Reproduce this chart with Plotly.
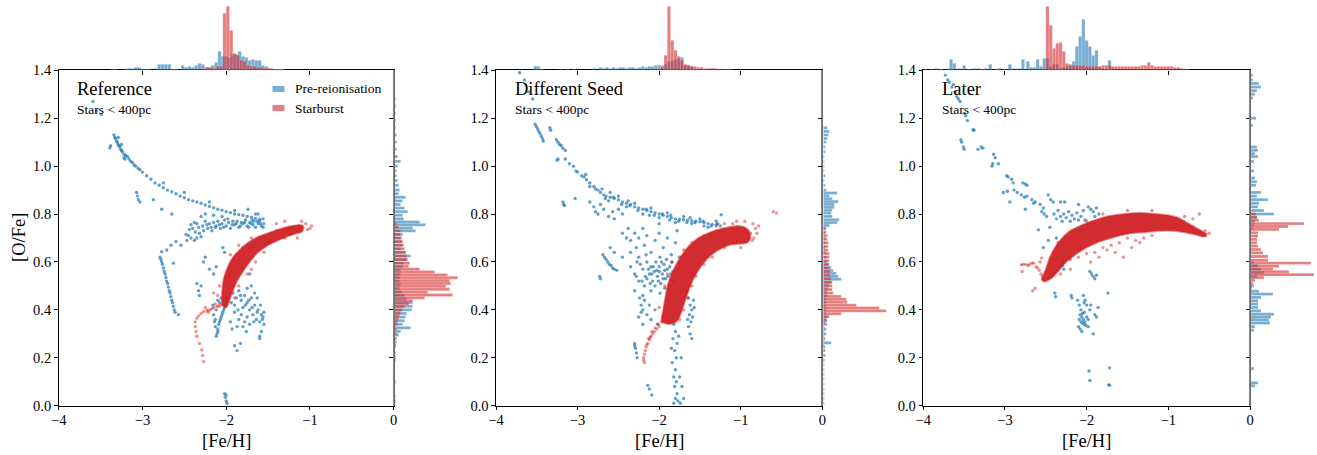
import plotly.graph_objects as go

# ---------------------------------------------------------------- text / ticks
PANEL_TITLES = ["Reference", "Different Seed", "Later"]
SUBTITLE = "Stars < 400pc"
SERIES_NAMES = ["Pre-reionisation", "Starburst"]
X_TITLE = "[Fe/H]"
Y_TITLE = "[O/Fe]"
FE_TICKS = [-4, -3, -2, -1, 0]
FE_TICK_TEXT = ["\u22124", "\u22123", "\u22122", "\u22121", "0"]
OFE_TICKS = [0.0, 0.2, 0.4, 0.6, 0.8, 1.0, 1.2, 1.4]
OFE_TICK_TEXT = ["0.0", "0.2", "0.4", "0.6", "0.8", "1.0", "1.2", "1.4"]

# ---------------------------------------------------------------- panel 1: Reference  ([Fe/H], [O/Fe])
REF_PRE = [
    (-3.59, 1.27), (-3.55, 1.23), (-3.49, 1.215), (-3.34, 1.13), (-3.33, 1.12), (-3.32, 1.115), (-3.31, 1.105),
    (-3.30, 1.10), (-3.29, 1.09), (-3.28, 1.085), (-3.27, 1.08), (-3.26, 1.07), (-3.25, 1.065), (-3.24, 1.06),
    (-3.22, 1.05), (-3.20, 1.045), (-3.18, 1.04), (-3.16, 1.03), (-3.14, 1.02), (-3.12, 1.015), (-3.10, 1.005),
    (-3.08, 1.0), (-3.05, 0.99), (-3.03, 0.985), (-3.39, 1.076), (-3.38, 1.085), (-3.22, 1.035), (-3.21, 1.03),
    (-3.25, 1.09), (-3.29, 1.12),
    (-3.0, 0.975), (-2.95, 0.96), (-2.90, 0.945), (-2.85, 0.93), (-2.80, 0.92), (-2.75, 0.91), (-2.70, 0.90),
    (-2.65, 0.893), (-2.60, 0.885), (-2.55, 0.875), (-2.50, 0.868), (-2.45, 0.86), (-2.40, 0.855), (-2.35, 0.85),
    (-2.30, 0.845), (-2.25, 0.838), (-2.20, 0.832), (-2.15, 0.826), (-2.10, 0.82), (-2.05, 0.816), (-2.0, 0.81),
    (-1.95, 0.806), (-1.90, 0.80), (-1.85, 0.797), (-1.80, 0.795), (-1.75, 0.79), (-1.70, 0.787), (-1.65, 0.782),
    (-1.60, 0.778), (-1.56, 0.78), (-2.75, 0.93), (-2.50, 0.89), (-2.20, 0.85), (-1.90, 0.815), (-1.65, 0.80),
    (-1.74, 0.82), (-1.62, 0.80),
    (-3.07, 0.89), (-3.06, 0.875), (-3.05, 0.86), (-3.03, 0.85), (-2.87, 0.86), (-2.77, 0.82), (-2.65, 0.80),
    (-2.40, 0.74), (-2.35, 0.76), (-2.32, 0.72), (-2.28, 0.75), (-2.25, 0.77), (-2.22, 0.74), (-2.20, 0.76),
    (-2.17, 0.73), (-2.15, 0.765), (-2.12, 0.75), (-2.10, 0.77), (-2.07, 0.74), (-2.05, 0.76), (-2.02, 0.775),
    (-2.0, 0.75), (-1.97, 0.765), (-1.95, 0.74), (-1.92, 0.77), (-1.90, 0.755), (-1.87, 0.77), (-1.85, 0.745),
    (-1.82, 0.765), (-1.80, 0.76), (-1.77, 0.775), (-1.75, 0.75), (-1.72, 0.765), (-1.70, 0.76), (-1.67, 0.77),
    (-1.65, 0.745), (-1.62, 0.76), (-1.60, 0.77), (-1.58, 0.75), (-1.56, 0.745), (-1.55, 0.76), (-2.30, 0.79),
    (-2.25, 0.80), (-2.15, 0.795), (-2.05, 0.79), (-2.38, 0.765), (-2.13, 0.745), (-1.93, 0.755), (-1.68, 0.755),
    (-2.42, 0.755), (-2.33, 0.745), (-2.27, 0.73), (-2.23, 0.755), (-2.18, 0.745), (-2.08, 0.755), (-2.03, 0.745),
    (-1.98, 0.78), (-1.88, 0.76), (-1.83, 0.75), (-1.78, 0.765), (-1.73, 0.745), (-1.69, 0.775), (-1.63, 0.77),
    (-1.59, 0.76), (-2.37, 0.725), (-2.44, 0.735), (-2.48, 0.715),
    (-2.45, 0.71), (-2.42, 0.70), (-2.38, 0.69), (-2.35, 0.70), (-2.30, 0.705), (-2.47, 0.69),
    (-2.77, 0.643), (-2.71, 0.65), (-2.66, 0.67), (-2.60, 0.685), (-2.63, 0.595), (-2.54, 0.67),
    (-2.79, 0.62), (-2.78, 0.61), (-2.77, 0.60), (-2.76, 0.59), (-2.75, 0.575), (-2.74, 0.56), (-2.73, 0.55),
    (-2.72, 0.535), (-2.71, 0.52), (-2.70, 0.51), (-2.69, 0.495), (-2.68, 0.48), (-2.67, 0.47), (-2.66, 0.455),
    (-2.65, 0.44), (-2.64, 0.43), (-2.63, 0.415), (-2.62, 0.40), (-2.61, 0.39), (-2.57, 0.38),
    (-1.99, 0.45), (-2.0, 0.43), (-2.01, 0.42), (-2.02, 0.41), (-2.03, 0.40), (-2.04, 0.39), (-2.05, 0.38),
    (-2.06, 0.37), (-2.07, 0.36), (-2.08, 0.35), (-2.09, 0.34), (-2.10, 0.32), (-2.11, 0.30), (-2.12, 0.29),
    (-2.10, 0.31), (-2.13, 0.33), (-2.13, 0.36), (-2.15, 0.38), (-2.12, 0.40), (-2.16, 0.42), (-2.10, 0.44),
    (-1.92, 0.47), (-1.88, 0.45), (-1.85, 0.48), (-1.82, 0.44), (-1.80, 0.41), (-1.78, 0.46), (-1.75, 0.43),
    (-1.72, 0.40), (-1.70, 0.45), (-1.68, 0.38), (-1.66, 0.42), (-1.64, 0.36), (-1.62, 0.40), (-1.60, 0.35),
    (-1.58, 0.38), (-1.56, 0.37), (-1.55, 0.34), (-1.58, 0.31), (-1.60, 0.29), (-1.85, 0.36), (-1.82, 0.38),
    (-1.78, 0.35), (-1.90, 0.39), (-1.95, 0.35), (-1.93, 0.32), (-1.87, 0.33), (-1.75, 0.37), (-1.72, 0.34),
    (-1.70, 0.50), (-1.66, 0.47), (-1.75, 0.49), (-1.63, 0.45), (-1.55, 0.39), (-1.90, 0.25), (-1.87, 0.23),
    (-1.83, 0.26), (-1.60, 0.28), (-2.35, 0.51), (-2.33, 0.48), (-2.30, 0.50), (-2.32, 0.46),
    (-1.94, 0.43), (-1.90, 0.42), (-1.86, 0.40), (-1.83, 0.46), (-1.77, 0.42), (-1.73, 0.44), (-1.69, 0.41),
    (-1.67, 0.35), (-1.63, 0.39), (-1.59, 0.42), (-1.57, 0.36), (-1.80, 0.33), (-1.76, 0.31), (-2.08, 0.43),
    (-2.06, 0.45), (-2.14, 0.35),
    (-2.27, 0.60), (-2.20, 0.57), (-2.15, 0.55), (-2.12, 0.58), (-2.04, 0.66), (-2.02, 0.64), (-1.80, 0.66),
    (-1.72, 0.66), (-1.49, 0.68), (-1.72, 0.55), (-2.25, 0.62),
    (-2.02, 0.05), (-2.01, 0.035), (-2.0, 0.02), (-1.99, 0.01), (-2.0, 0.045),
]
REF_BURST_CORE = [
    (-2.05, 0.42), (-2.05, 0.47), (-2.03, 0.53), (-1.98, 0.58), (-1.92, 0.62), (-1.84, 0.65), (-1.74, 0.68),
    (-1.62, 0.705), (-1.50, 0.72), (-1.38, 0.735), (-1.25, 0.748), (-1.12, 0.755), (-1.08, 0.75), (-1.08, 0.735),
    (-1.10, 0.725), (-1.20, 0.715), (-1.35, 0.695), (-1.50, 0.67), (-1.62, 0.64), (-1.72, 0.60), (-1.80, 0.56),
    (-1.87, 0.52), (-1.93, 0.47), (-1.97, 0.43), (-2.0, 0.41),
]
REF_BURST = [
    (-2.03, 0.43), (-2.07, 0.42), (-2.11, 0.414), (-2.15, 0.41), (-2.19, 0.40), (-2.23, 0.395), (-2.27, 0.393),
    (-2.30, 0.385), (-2.33, 0.375), (-2.35, 0.365), (-2.37, 0.35), (-2.37, 0.33), (-2.36, 0.31), (-2.35, 0.29),
    (-2.32, 0.26), (-2.29, 0.233), (-2.28, 0.21), (-2.27, 0.184), (-2.22, 0.40), (-2.25, 0.41), (-2.13, 0.425),
    (-2.09, 0.415), (-2.17, 0.405), (-2.21, 0.39),
    (-1.05, 0.76), (-1.0, 0.74), (-0.98, 0.75), (-1.10, 0.77), (-1.15, 0.70), (-1.30, 0.70), (-1.45, 0.69),
    (-1.55, 0.64), (-1.60, 0.66), (-1.65, 0.60), (-1.70, 0.57), (-1.75, 0.55), (-1.85, 0.50), (-1.90, 0.45),
    (-2.08, 0.50), (-2.10, 0.46), (-1.95, 0.63), (-1.85, 0.67), (-1.70, 0.70), (-1.40, 0.76), (-1.30, 0.77),
    (-2.15, 0.47), (-1.57, 0.69), (-1.40, 0.73), (-1.25, 0.74), (-1.90, 0.58), (-1.80, 0.62), (-1.03, 0.735),
]
REF_TOP_PRE = [
    (-3.36, 1), (-3.32, 1), (-3.20, 1.5), (-3.16, 2), (-3.12, 2), (-3.08, 3), (-3.04, 3), (-3.00, 1), (-2.96, 1),
    (-2.92, 1), (-2.84, 2), (-2.80, 6), (-2.76, 6), (-2.72, 6), (-2.68, 6), (-2.64, 1), (-2.60, 1.5), (-2.52, 5),
    (-2.48, 3), (-2.44, 4), (-2.40, 3), (-2.36, 5), (-2.32, 7), (-2.28, 6), (-2.24, 3), (-2.20, 3), (-2.16, 5),
    (-2.12, 8), (-2.08, 19), (-2.04, 14), (-2.00, 14), (-1.96, 13), (-1.92, 16), (-1.88, 16), (-1.84, 19),
    (-1.80, 14), (-1.76, 13), (-1.72, 10), (-1.68, 11), (-1.64, 10), (-1.60, 10), (-1.56, 5), (-1.52, 4),
    (-1.48, 2), (-1.44, 1), (-1.40, 1), (-1.36, 1), (-1.32, 1),
]
REF_TOP_BURST = [
    (-2.26, 2), (-2.22, 3), (-2.18, 3), (-2.14, 2), (-2.10, 4), (-2.06, 4), (-2.02, 57), (-1.98, 64), (-1.94, 40),
    (-1.90, 17), (-1.86, 15), (-1.82, 10), (-1.78, 9), (-1.74, 5), (-1.70, 4), (-1.66, 4), (-1.62, 3), (-1.58, 3),
    (-1.54, 2), (-1.50, 2), (-1.46, 2), (-1.42, 1), (-1.38, 1), (-1.34, 1),
]
REF_SIDE_PRE = [
    (1.28, 1), (1.25, 1), (1.22, 1), (1.19, 1), (1.16, 1), (1.13, 2), (1.10, 2), (1.07, 2), (1.04, 3), (1.02, 6),
    (1.00, 3), (0.98, 2), (0.96, 2), (0.94, 3), (0.92, 4), (0.90, 5), (0.885, 4), (0.87, 11), (0.855, 8),
    (0.84, 6), (0.825, 10), (0.81, 13), (0.795, 8), (0.78, 9), (0.767, 25), (0.755, 31), (0.742, 18), (0.73, 21),
    (0.715, 8), (0.70, 6), (0.685, 7), (0.67, 8), (0.655, 6), (0.64, 11), (0.625, 16), (0.61, 12), (0.595, 9),
    (0.58, 8), (0.565, 6), (0.55, 6), (0.535, 5), (0.52, 5), (0.505, 6), (0.49, 5), (0.475, 7), (0.46, 10),
    (0.445, 12), (0.43, 18), (0.415, 18), (0.40, 17), (0.385, 12), (0.37, 11), (0.355, 10), (0.34, 8),
    (0.325, 16), (0.31, 6), (0.295, 4), (0.28, 2), (0.265, 2), (0.25, 1), (0.20, 1), (0.10, 1), (0.04, 1),
    (0.02, 1),
]
REF_SIDE_BURST = [
    (0.76, 2), (0.745, 4), (0.73, 6), (0.715, 6), (0.70, 7), (0.685, 8), (0.67, 9), (0.655, 10), (0.64, 11),
    (0.625, 12), (0.61, 13), (0.595, 15), (0.582, 14), (0.57, 25), (0.558, 40), (0.546, 53), (0.534, 63),
    (0.522, 55), (0.51, 56), (0.498, 51), (0.486, 55), (0.474, 33), (0.462, 58), (0.45, 30), (0.438, 18),
    (0.426, 14), (0.414, 10), (0.40, 8), (0.388, 6), (0.376, 5), (0.364, 4), (0.352, 3), (0.34, 3), (0.32, 2),
    (0.30, 2), (0.28, 1), (0.25, 1), (0.22, 1), (0.19, 1),
]

# ---------------------------------------------------------------- panel 2: Different Seed
SEED_PRE = [
    (-3.71, 1.39), (-3.65, 1.36), (-3.60, 1.31), (-3.55, 1.28),
    (-3.52, 1.175), (-3.505, 1.165), (-3.49, 1.155), (-3.475, 1.145), (-3.46, 1.135), (-3.445, 1.125),
    (-3.43, 1.115), (-3.42, 1.105), (-3.34, 1.16), (-3.33, 1.15), (-3.26, 1.11), (-3.24, 1.10), (-3.22, 1.09),
    (-3.20, 1.085), (-3.18, 1.075), (-3.15, 1.065), (-3.24, 1.03), (-3.25, 1.025),
    (-3.15, 1.03), (-3.10, 1.01), (-3.05, 1.0), (-3.02, 0.98), (-3.0, 0.975), (-2.95, 0.96), (-2.92, 0.955),
    (-2.89, 0.943), (-2.85, 0.93), (-2.80, 0.915), (-2.75, 0.90), (-2.72, 0.89), (-2.68, 0.88), (-2.65, 0.875),
    (-2.60, 0.87), (-2.55, 0.865), (-2.50, 0.86), (-2.45, 0.85), (-2.40, 0.845), (-2.35, 0.84), (-2.30, 0.83),
    (-2.25, 0.825), (-2.20, 0.82), (-2.15, 0.815), (-2.10, 0.81), (-2.05, 0.805), (-2.0, 0.80), (-1.95, 0.795),
    (-1.90, 0.79), (-1.85, 0.785), (-1.80, 0.78), (-1.75, 0.778), (-1.70, 0.776), (-1.65, 0.774), (-1.60, 0.772),
    (-1.55, 0.77), (-1.50, 0.768), (-1.45, 0.765), (-1.40, 0.76), (-1.35, 0.757), (-1.30, 0.755), (-1.25, 0.75),
    (-2.90, 0.965), (-2.70, 0.905), (-2.60, 0.89), (-2.50, 0.875), (-2.40, 0.83), (-2.30, 0.845), (-2.20, 0.80),
    (-2.10, 0.825), (-2.0, 0.785), (-1.90, 0.805), (-1.80, 0.765), (-1.70, 0.79), (-1.60, 0.76), (-1.50, 0.78),
    (-1.40, 0.745), (-1.30, 0.77), (-1.24, 0.797), (-2.62, 0.855), (-2.38, 0.855), (-2.12, 0.795),
    (-1.87, 0.775), (-1.62, 0.785), (-1.45, 0.75),
    (-2.85, 0.915), (-2.78, 0.905), (-2.66, 0.865), (-2.56, 0.87), (-2.46, 0.84), (-2.36, 0.835), (-2.26, 0.815),
    (-2.16, 0.82), (-2.06, 0.795), (-1.96, 0.80), (-1.86, 0.795), (-1.76, 0.77), (-1.66, 0.765), (-1.56, 0.765),
    (-1.46, 0.77), (-1.36, 0.75), (-1.28, 0.76),
    (-3.18, 0.85), (-3.17, 0.84), (-3.16, 0.835), (-3.03, 0.865),
    (-2.85, 0.85), (-2.80, 0.83), (-2.78, 0.81), (-2.75, 0.80), (-2.72, 0.84), (-2.68, 0.82), (-2.62, 0.79),
    (-2.57, 0.81), (-2.55, 0.78), (-2.50, 0.82), (-2.45, 0.80),
    (-2.45, 0.72), (-2.40, 0.70), (-2.38, 0.74), (-2.35, 0.69), (-2.30, 0.72), (-2.28, 0.66), (-2.25, 0.70),
    (-2.20, 0.74), (-2.18, 0.67), (-2.15, 0.71), (-2.10, 0.64), (-2.05, 0.69), (-2.0, 0.72), (-1.95, 0.66),
    (-1.90, 0.70), (-1.85, 0.63), (-1.80, 0.68), (-1.75, 0.62), (-2.60, 0.66), (-2.55, 0.64), (-2.45, 0.62),
    (-2.35, 0.64), (-2.25, 0.62), (-2.0, 0.76), (-1.78, 0.73),
    (-2.35, 0.58), (-2.30, 0.55), (-2.27, 0.60), (-2.25, 0.52), (-2.20, 0.57), (-2.18, 0.50), (-2.15, 0.60),
    (-2.12, 0.55), (-2.10, 0.58), (-2.08, 0.52), (-2.06, 0.56), (-2.04, 0.60), (-2.02, 0.54), (-2.0, 0.58),
    (-1.98, 0.51), (-1.96, 0.55), (-1.94, 0.59), (-1.92, 0.53), (-1.90, 0.57), (-1.88, 0.50), (-1.86, 0.55),
    (-1.84, 0.60), (-1.82, 0.52), (-2.05, 0.50), (-2.10, 0.48), (-2.20, 0.46), (-2.30, 0.48), (-2.15, 0.53),
    (-2.0, 0.56), (-1.95, 0.53), (-2.07, 0.58), (-1.97, 0.60), (-2.13, 0.57), (-2.03, 0.565), (-1.93, 0.565),
    (-2.28, 0.54), (-2.23, 0.59), (-2.17, 0.54), (-2.11, 0.51), (-2.09, 0.55), (-2.01, 0.52), (-1.99, 0.62),
    (-1.91, 0.61), (-1.87, 0.58), (-1.89, 0.54), (-1.83, 0.56), (-2.21, 0.52), (-2.16, 0.63), (-1.93, 0.49),
    (-1.99, 0.47),
    (-2.69, 0.63), (-2.67, 0.62), (-2.65, 0.61), (-2.63, 0.60), (-2.61, 0.59), (-2.59, 0.585), (-2.57, 0.575),
    (-2.55, 0.57), (-2.52, 0.565), (-2.73, 0.54), (-2.72, 0.53),
    (-2.24, 0.45), (-2.22, 0.42), (-2.20, 0.40), (-2.18, 0.44), (-2.15, 0.38), (-2.12, 0.42), (-2.10, 0.36),
    (-2.05, 0.40), (-2.02, 0.34), (-2.20, 0.34), (-2.25, 0.37), (-2.22, 0.39),
    (-1.66, 0.48), (-1.64, 0.45), (-1.62, 0.42), (-1.60, 0.40), (-1.63, 0.38), (-1.61, 0.35), (-1.64, 0.33),
    (-1.62, 0.30), (-1.60, 0.28), (-1.65, 0.36), (-1.58, 0.44), (-1.59, 0.37), (-1.57, 0.41),
    (-1.82, 0.34), (-1.80, 0.31), (-1.83, 0.28), (-1.78, 0.26), (-1.81, 0.23), (-1.79, 0.20), (-1.84, 0.18),
    (-1.80, 0.15), (-1.82, 0.12), (-1.79, 0.10), (-1.81, 0.08), (-1.78, 0.05), (-1.80, 0.03), (-1.82, 0.01),
    (-1.77, 0.02), (-1.75, 0.12), (-1.73, 0.20), (-1.72, 0.08), (-1.74, 0.01), (-1.70, 0.03), (-1.76, 0.29),
    (-1.85, 0.24),
    (-2.30, 0.26), (-2.29, 0.24), (-2.28, 0.22), (-2.27, 0.20), (-2.30, 0.25), (-2.14, 0.085), (-2.12, 0.07),
    (-2.09, 0.045),
]
SEED_BURST_CORE = [
    (-1.97, 0.35), (-1.95, 0.40), (-1.92, 0.46), (-1.88, 0.52), (-1.82, 0.57), (-1.74, 0.62), (-1.64, 0.665),
    (-1.52, 0.70), (-1.40, 0.72), (-1.28, 0.735), (-1.15, 0.745), (-1.03, 0.75), (-0.95, 0.745), (-0.90, 0.73),
    (-0.88, 0.70), (-0.92, 0.68), (-1.05, 0.675), (-1.15, 0.67), (-1.30, 0.645), (-1.42, 0.61), (-1.50, 0.575),
    (-1.58, 0.53), (-1.64, 0.48), (-1.69, 0.43), (-1.74, 0.38), (-1.79, 0.35), (-1.88, 0.34),
]
SEED_BURST = [
    (-1.97, 0.35), (-2.0, 0.33), (-2.03, 0.32), (-2.06, 0.31), (-2.08, 0.30), (-2.10, 0.29), (-2.12, 0.275),
    (-2.14, 0.26), (-2.16, 0.245), (-2.17, 0.23), (-2.18, 0.215), (-2.19, 0.20), (-2.19, 0.19), (-2.18, 0.18),
    (-2.05, 0.325), (-2.09, 0.31), (-2.13, 0.28), (-2.01, 0.34), (-2.11, 0.285), (-2.15, 0.255),
    (-0.85, 0.76), (-0.82, 0.74), (-0.80, 0.72), (-0.84, 0.70), (-0.78, 0.75), (-0.95, 0.77), (-1.05, 0.77),
    (-1.20, 0.76), (-1.30, 0.75), (-0.56, 0.804), (-0.60, 0.81), (-1.0, 0.66), (-1.20, 0.66), (-1.35, 0.62),
    (-1.45, 0.59), (-1.55, 0.54), (-1.60, 0.50), (-1.65, 0.45), (-1.70, 0.40), (-1.75, 0.36), (-1.45, 0.71),
    (-1.60, 0.68), (-1.70, 0.65), (-1.85, 0.60), (-1.90, 0.55), (-1.93, 0.50), (-2.0, 0.41), (-1.95, 0.37),
    (-0.88, 0.72), (-0.86, 0.69), (-1.10, 0.76),
]
SEED_TOP_PRE = [
    (-3.52, 4), (-3.48, 4), (-3.44, 1), (-3.20, 1), (-3.12, 1), (-3.04, 1), (-2.80, 2), (-2.72, 3), (-2.68, 2),
    (-2.64, 3), (-2.60, 2), (-2.56, 3), (-2.52, 2), (-2.48, 3), (-2.44, 3), (-2.40, 2), (-2.36, 3), (-2.32, 3),
    (-2.28, 2), (-2.24, 3), (-2.20, 4), (-2.16, 3), (-2.12, 4), (-2.08, 4), (-2.04, 5), (-2.00, 5), (-1.96, 5),
    (-1.92, 6), (-1.88, 9), (-1.84, 10), (-1.80, 11), (-1.76, 12), (-1.72, 13), (-1.68, 5), (-1.64, 5),
    (-1.60, 4), (-1.56, 1), (-1.52, 1), (-1.48, 1), (-1.44, 1),
]
SEED_TOP_BURST = [
    (-2.00, 2), (-1.96, 3), (-1.92, 15), (-1.88, 64), (-1.84, 30), (-1.80, 20), (-1.76, 14), (-1.72, 10),
    (-1.68, 6), (-1.64, 5), (-1.60, 4), (-1.56, 4), (-1.52, 3), (-1.48, 3), (-1.44, 2), (-1.40, 2), (-1.36, 2),
    (-1.32, 2), (-1.28, 1.5), (-1.24, 1.5), (-1.20, 1), (-1.16, 1), (-1.12, 1),
]
SEED_SIDE_PRE = [
    (1.16, 4), (1.145, 6), (1.13, 5), (1.115, 4), (1.10, 3), (1.08, 2), (1.06, 2), (1.04, 1), (1.02, 1),
    (1.0, 1), (0.98, 1), (0.96, 2), (0.94, 1), (0.92, 2), (0.90, 3), (0.888, 14), (0.876, 6), (0.864, 9),
    (0.852, 15), (0.84, 11), (0.828, 11), (0.816, 9), (0.804, 8), (0.79, 9), (0.776, 16), (0.764, 14),
    (0.752, 6), (0.74, 3), (0.72, 2), (0.70, 2), (0.68, 2), (0.66, 2), (0.64, 3), (0.62, 3), (0.60, 4),
    (0.588, 5), (0.576, 8), (0.564, 10), (0.552, 13), (0.54, 15), (0.528, 18), (0.516, 8), (0.504, 6),
    (0.49, 5), (0.475, 4), (0.46, 4), (0.445, 3), (0.43, 3), (0.415, 3), (0.40, 3), (0.385, 3), (0.37, 4),
    (0.355, 4), (0.34, 4), (0.32, 3), (0.30, 3), (0.28, 2), (0.262, 8), (0.245, 2), (0.23, 2), (0.21, 2),
    (0.19, 1), (0.17, 1), (0.15, 1), (0.13, 1), (0.11, 1), (0.09, 1), (0.07, 1), (0.05, 1), (0.03, 1),
    (0.01, 1),
]
SEED_SIDE_BURST = [
    (0.74, 2), (0.725, 3), (0.71, 4), (0.695, 4), (0.68, 5), (0.665, 5), (0.65, 5), (0.635, 6), (0.62, 6),
    (0.605, 6), (0.59, 6), (0.575, 6), (0.56, 7), (0.545, 7), (0.53, 8), (0.515, 9), (0.50, 9), (0.485, 9),
    (0.47, 10), (0.456, 18), (0.444, 23), (0.432, 24), (0.42, 33), (0.408, 56), (0.396, 63), (0.384, 18),
    (0.372, 6), (0.36, 3), (0.347, 2), (0.33, 1), (0.31, 1), (0.29, 1), (0.27, 1), (0.25, 1), (0.23, 1),
    (0.21, 1), (0.19, 1),
]

# ---------------------------------------------------------------- panel 3: Later
LATER_PRE = [
    (-3.73, 1.38), (-3.70, 1.36), (-3.68, 1.35), (-3.65, 1.33), (-3.63, 1.34), (-3.61, 1.31), (-3.59, 1.29),
    (-3.57, 1.28), (-3.55, 1.27), (-3.50, 1.22), (-3.48, 1.21), (-3.46, 1.19), (-3.39, 1.152), (-3.38, 1.15),
    (-3.54, 1.11), (-3.53, 1.10), (-3.51, 1.08), (-3.50, 1.07), (-3.33, 1.07), (-3.29, 1.08), (-3.27, 1.075),
    (-3.14, 1.05), (-3.12, 1.035), (-3.16, 1.0), (-3.15, 1.01), (-3.08, 1.01), (-2.98, 0.96), (-2.96, 0.955),
    (-2.92, 0.945), (-2.90, 0.93), (-3.02, 0.89), (-2.97, 0.895), (-2.89, 0.90), (-2.85, 0.89), (-2.94, 0.85),
    (-2.78, 0.93), (-2.75, 0.925), (-2.73, 0.92), (-2.80, 0.88), (-2.76, 0.87), (-2.73, 0.875), (-2.75, 0.82),
    (-2.67, 0.86), (-2.63, 0.85), (-2.65, 0.845), (-2.57, 0.84), (-2.55, 0.81), (-2.52, 0.80), (-2.49, 0.79),
    (-2.53, 0.825), (-2.47, 0.88), (-2.44, 0.86), (-2.41, 0.85), (-2.32, 0.85), (-2.27, 0.85), (-2.10, 0.84),
    (-2.40, 0.80), (-2.37, 0.78), (-2.35, 0.815), (-2.32, 0.79), (-2.30, 0.77), (-2.28, 0.80), (-2.25, 0.785),
    (-2.22, 0.81), (-2.20, 0.77), (-2.18, 0.795), (-2.15, 0.78), (-2.12, 0.805), (-2.10, 0.775), (-2.07, 0.79),
    (-2.04, 0.815), (-2.02, 0.775), (-1.98, 0.83), (-1.95, 0.82), (-1.92, 0.81), (-1.88, 0.825), (-1.90, 0.79),
    (-1.85, 0.80),
    (-2.59, 0.734), (-2.53, 0.66), (-2.37, 0.70), (-2.47, 0.69), (-2.45, 0.745), (-2.29, 0.60), (-2.28, 0.57),
    (-2.30, 0.585),
    (-2.39, 0.47), (-2.38, 0.455), (-2.19, 0.46), (-2.18, 0.45), (-2.04, 0.46), (-2.02, 0.44), (-2.0, 0.42),
    (-2.03, 0.43), (-1.96, 0.56), (-1.94, 0.55), (-1.92, 0.54), (-1.90, 0.53), (-1.88, 0.545), (-1.74, 0.47),
    (-2.11, 0.44), (-2.09, 0.42), (-2.07, 0.40), (-2.05, 0.385), (-2.08, 0.38), (-2.06, 0.37), (-2.04, 0.36),
    (-2.02, 0.35), (-2.07, 0.35), (-2.05, 0.345), (-2.03, 0.34), (-2.01, 0.335), (-2.0, 0.37), (-1.98, 0.36),
    (-2.09, 0.36), (-2.10, 0.33), (-2.08, 0.32), (-2.06, 0.31), (-1.98, 0.33), (-1.96, 0.40), (-1.95, 0.42),
    (-1.90, 0.38), (-1.88, 0.37), (-1.86, 0.41), (-1.92, 0.30), (-2.03, 0.39),
    (-1.97, 0.145), (-1.96, 0.105), (-1.72, 0.158), (-1.73, 0.087), (-1.72, 0.085),
]
LATER_BURST_CORE = [
    (-2.55, 0.525), (-2.50, 0.57), (-2.45, 0.62), (-2.38, 0.665), (-2.30, 0.70), (-2.20, 0.73), (-2.05, 0.755),
    (-1.90, 0.775), (-1.75, 0.79), (-1.55, 0.80), (-1.35, 0.805), (-1.15, 0.80), (-1.0, 0.795), (-0.88, 0.785),
    (-0.75, 0.76), (-0.62, 0.735), (-0.53, 0.715), (-0.55, 0.705), (-0.68, 0.715), (-0.82, 0.725),
    (-0.95, 0.73), (-1.10, 0.73), (-1.25, 0.725), (-1.45, 0.72), (-1.65, 0.705), (-1.84, 0.685), (-2.0, 0.66),
    (-2.12, 0.635), (-2.25, 0.60), (-2.35, 0.56), (-2.42, 0.535), (-2.50, 0.52),
]
LATER_BURST = [
    (-2.80, 0.588), (-2.78, 0.59), (-2.75, 0.59), (-2.72, 0.585), (-2.70, 0.59), (-2.67, 0.595), (-2.65, 0.595),
    (-2.62, 0.58), (-2.60, 0.575), (-2.58, 0.565), (-2.56, 0.55), (-2.54, 0.54), (-2.53, 0.53), (-2.55, 0.616),
    (-2.57, 0.60), (-2.52, 0.52), (-2.48, 0.53), (-2.45, 0.54), (-2.66, 0.48), (-2.63, 0.49), (-2.79, 0.56),
    (-2.30, 0.62), (-2.20, 0.61), (-2.10, 0.62), (-2.0, 0.635), (-1.90, 0.64), (-1.80, 0.66), (-1.70, 0.67),
    (-1.60, 0.68), (-1.50, 0.70), (-1.40, 0.69), (-1.30, 0.70), (-1.20, 0.71), (-1.65, 0.64), (-1.85, 0.62),
    (-1.45, 0.66), (-1.55, 0.62), (-2.20, 0.57), (-2.32, 0.55), (-1.95, 0.60), (-1.75, 0.65), (-1.35, 0.68),
    (-0.62, 0.80), (-0.70, 0.78), (-0.80, 0.79), (-1.20, 0.815), (-1.50, 0.815), (-1.80, 0.80), (-0.50, 0.72),
    (-0.55, 0.73), (-0.60, 0.72), (-0.70, 0.73), (-2.35, 0.68), (-2.40, 0.64), (-2.0, 0.77),
]
LATER_TOP_PRE = [
    (-3.98, 1), (-3.90, 1), (-3.84, 2), (-3.78, 1), (-3.70, 2), (-3.66, 11), (-3.62, 7), (-3.56, 2), (-3.50, 5),
    (-3.44, 1), (-3.38, 2), (-3.32, 2), (-3.28, 1), (-3.24, 2), (-3.18, 6), (-3.10, 1), (-3.06, 2), (-3.00, 1),
    (-2.94, 6), (-2.90, 2), (-2.84, 2), (-2.78, 11), (-2.72, 9), (-2.68, 3), (-2.64, 3), (-2.60, 11),
    (-2.56, 4), (-2.52, 12), (-2.48, 12), (-2.44, 4), (-2.40, 6), (-2.36, 6), (-2.32, 2), (-2.28, 3),
    (-2.24, 4), (-2.20, 6), (-2.16, 9), (-2.12, 24), (-2.08, 34), (-2.04, 51), (-2.00, 30), (-1.96, 24),
    (-1.92, 15), (-1.88, 20), (-1.84, 3), (-1.80, 2), (-1.76, 1), (-1.72, 10), (-1.68, 2),
]
LATER_TOP_BURST = [
    (-2.52, 2), (-2.48, 64), (-2.44, 45), (-2.40, 22), (-2.36, 27), (-2.32, 28), (-2.28, 19), (-2.24, 7),
    (-2.20, 5), (-2.16, 5), (-2.12, 5), (-2.08, 5), (-2.04, 5), (-2.00, 4), (-1.96, 4), (-1.92, 4), (-1.88, 4),
    (-1.84, 4), (-1.80, 5), (-1.76, 5), (-1.72, 5), (-1.68, 4), (-1.64, 4), (-1.60, 4), (-1.56, 4), (-1.52, 4),
    (-1.48, 4), (-1.44, 4), (-1.40, 4), (-1.36, 4), (-1.32, 5), (-1.28, 5), (-1.24, 8), (-1.20, 5), (-1.16, 4),
    (-1.12, 4), (-1.08, 4), (-1.04, 4), (-1.00, 4), (-0.96, 4), (-0.92, 3), (-0.88, 3), (-0.84, 2), (-0.80, 1),
    (-0.76, 1),
]
LATER_SIDE_PRE = [
    (1.38, 2), (1.36, 2), (1.345, 8), (1.33, 10), (1.315, 6), (1.30, 4), (1.285, 2), (1.20, 5), (1.17, 2),
    (1.08, 6), (1.066, 7), (1.052, 4), (1.04, 7), (1.02, 3), (0.98, 3), (0.95, 4), (0.935, 6), (0.92, 5),
    (0.89, 10), (0.875, 6), (0.86, 17), (0.845, 8), (0.83, 7), (0.815, 13), (0.80, 23), (0.785, 6), (0.77, 4),
    (0.755, 3), (0.74, 2), (0.60, 3), (0.585, 7), (0.57, 10), (0.555, 13), (0.54, 6), (0.50, 3), (0.478, 8),
    (0.466, 22), (0.452, 10), (0.438, 7), (0.424, 7), (0.41, 7), (0.396, 10), (0.382, 23), (0.37, 20),
    (0.358, 18), (0.345, 19), (0.33, 4), (0.315, 3), (0.155, 3), (0.095, 7), (0.083, 4),
]
LATER_SIDE_BURST = [
    (0.80, 5), (0.787, 6), (0.774, 8), (0.76, 53), (0.748, 37), (0.736, 28), (0.722, 7), (0.708, 7), (0.694, 6),
    (0.68, 6), (0.666, 7), (0.652, 10), (0.638, 12), (0.623, 17), (0.607, 17), (0.595, 60), (0.583, 28),
    (0.571, 22), (0.559, 38), (0.547, 63), (0.535, 13), (0.523, 4), (0.51, 2), (0.495, 1), (0.48, 1),
]

# ---------------------------------------------------------------- styling
BLUE = "#1f77b4"
RED = "#d62728"
RED_CORE = "rgba(207,28,32,0.93)"
SERIF = "Liberation Serif"
W, H = 1317, 455

# layout boxes in pixels (left, right) for the three main axes; shared top/bottom
MAIN_X = [(58.7, 393.7), (496.0, 822.3), (923.3, 1250.0)]
MAIN_Y = (70.3, 405.7)
TOP_H = 66.0
SIDE_W = 66.0

panels = [
    dict(title=PANEL_TITLES[0], pre=REF_PRE, core=REF_BURST_CORE, burst=REF_BURST,
         top_pre=REF_TOP_PRE, top_burst=REF_TOP_BURST, side_pre=REF_SIDE_PRE, side_burst=REF_SIDE_BURST),
    dict(title=PANEL_TITLES[1], pre=SEED_PRE, core=SEED_BURST_CORE, burst=SEED_BURST,
         top_pre=SEED_TOP_PRE, top_burst=SEED_TOP_BURST, side_pre=SEED_SIDE_PRE, side_burst=SEED_SIDE_BURST),
    dict(title=PANEL_TITLES[2], pre=LATER_PRE, core=LATER_BURST_CORE, burst=LATER_BURST,
         top_pre=LATER_TOP_PRE, top_burst=LATER_TOP_BURST, side_pre=LATER_SIDE_PRE, side_burst=LATER_SIDE_BURST),
]


def px_x(v):
    return v / W


def px_y(v):
    return 1 - v / H


def col(pairs, i):
    return [p[i] for p in pairs]


fig = go.Figure()
layout = dict(
    template="none",
    width=W, height=H, margin=dict(l=0, r=0, t=0, b=0, pad=0, autoexpand=False),
    paper_bgcolor="white", plot_bgcolor="rgba(0,0,0,0)",
    showlegend=False, barmode="overlay", font=dict(family=SERIF, size=14, color="black"),
)
annotations = []
shapes = []

for i, p in enumerate(panels):
    m, t, s = 3 * i + 1, 3 * i + 2, 3 * i + 3
    sx = lambda n: "x" if n == 1 else f"x{n}"
    sy = lambda n: "y" if n == 1 else f"y{n}"
    ax = lambda n, k: k + ("axis" if n == 1 else f"axis{n}")
    left, right = MAIN_X[i]
    xdom = [px_x(left), px_x(right)]
    ydom = [px_y(MAIN_Y[1]), px_y(MAIN_Y[0])]

    # main scatter
    fig.add_trace(go.Scatter(x=col(p["pre"], 0), y=col(p["pre"], 1), mode="markers", xaxis=sx(m), yaxis=sy(m),
                             marker=dict(color=BLUE, size=3.4, opacity=0.7, line=dict(width=0)),
                             name=SERIES_NAMES[0], hoverinfo="skip"))
    core = p["core"] + p["core"][:1]
    fig.add_trace(go.Scatter(x=col(core, 0), y=col(core, 1), mode="lines", fill="toself", fillcolor=RED_CORE,
                             line=dict(color="rgba(214,39,40,0.5)", width=1.8, shape="spline", smoothing=0.6),
                             xaxis=sx(m), yaxis=sy(m), hoverinfo="skip", name=SERIES_NAMES[1]))
    fig.add_trace(go.Scatter(x=col(p["burst"], 0), y=col(p["burst"], 1), mode="markers", xaxis=sx(m), yaxis=sy(m),
                             marker=dict(color=RED, size=3.4, opacity=0.5, line=dict(width=0)),
                             name=SERIES_NAMES[1], hoverinfo="skip"))

    # top histograms ([Fe/H])
    for data, c in ((p["top_pre"], BLUE), (p["top_burst"], RED)):
        fig.add_trace(go.Bar(x=col(data, 0), y=col(data, 1), width=0.04, xaxis=sx(t), yaxis=sy(t),
                             marker=dict(color=c, opacity=0.6, line=dict(color="rgba(255,255,255,0.5)", width=0.4)),
                             hoverinfo="skip"))
    # side histograms ([O/Fe])
    for data, c in ((p["side_pre"], BLUE), (p["side_burst"], RED)):
        fig.add_trace(go.Bar(y=col(data, 0), x=col(data, 1), width=0.012, orientation="h", xaxis=sx(s),
                             yaxis=sy(s),
                             marker=dict(color=c, opacity=0.6, line=dict(color="rgba(255,255,255,0.5)", width=0.4)),
                             hoverinfo="skip"))

    axis_common = dict(showgrid=False, zeroline=False, automargin=False, ticks="outside", ticklen=3.5,
                       tickwidth=1, tickcolor="black", tickfont=dict(family=SERIF, size=14.5, color="black"))
    layout[ax(m, "x")] = dict(domain=xdom, range=[-4, 0], anchor=sy(m), tickvals=FE_TICKS,
                              ticktext=FE_TICK_TEXT, showline=True, mirror=True, linecolor="black",
                              linewidth=1.2, ticklabelstandoff=-3, **axis_common)
    layout[ax(m, "y")] = dict(domain=ydom, range=[0, 1.4], anchor=sx(m), tickvals=OFE_TICKS,
                              ticktext=OFE_TICK_TEXT, showline=True, mirror=True, linecolor="black",
                              linewidth=1.2, **axis_common)
    # top hist axes
    layout[ax(t, "x")] = dict(domain=xdom, range=[-4, 0], anchor=sy(t), tickvals=FE_TICKS[1:-1],
                              showticklabels=False, showline=False, **axis_common)
    layout[ax(t, "y")] = dict(domain=[px_y(MAIN_Y[0]), px_y(MAIN_Y[0] - TOP_H)], range=[0, TOP_H],
                              anchor=sx(t), visible=False, automargin=False)
    # side hist axes
    layout[ax(s, "x")] = dict(domain=[px_x(right + 1), px_x(right + 1 + SIDE_W)], range=[0, SIDE_W],
                              anchor=sy(s), visible=False, automargin=False)
    layout[ax(s, "y")] = dict(domain=ydom, range=[0, 1.4], anchor=sx(s), tickvals=OFE_TICKS[1:-1],
                              showticklabels=False, showline=True, linecolor="rgba(120,120,120,0.9)",
                              linewidth=1.5, **axis_common)

    # panel texts
    annotations.append(dict(x=px_x(left + 16.5), y=px_y(89), xref="paper", yref="paper", text=p["title"],
                            showarrow=False, xanchor="left", yanchor="middle",
                            font=dict(family=SERIF, size=18.5, color="black")))
    annotations.append(dict(x=px_x(left + 16.5), y=px_y(109), xref="paper", yref="paper", text=SUBTITLE,
                            showarrow=False, xanchor="left", yanchor="middle",
                            font=dict(family=SERIF, size=13.5, color="black")))
    annotations.append(dict(x=px_x((left + right) / 2), y=px_y(441), xref="paper", yref="paper", text=X_TITLE,
                            showarrow=False, xanchor="center", yanchor="middle",
                            font=dict(family=SERIF, size=18.5, color="black")))

annotations.append(dict(x=px_x(19), y=px_y(238), xref="paper", yref="paper", text=Y_TITLE, textangle=-90,
                        showarrow=False, xanchor="center", yanchor="middle",
                        font=dict(family=SERIF, size=18.5, color="black")))

# legend (first panel)
for k, (name, c, yc) in enumerate(((SERIES_NAMES[0], BLUE, 89), (SERIES_NAMES[1], RED, 108))):
    shapes.append(dict(type="rect", xref="paper", yref="paper", x0=px_x(272.5), x1=px_x(284.5),
                       y0=px_y(yc + 3), y1=px_y(yc - 3), fillcolor=c, opacity=0.6, line=dict(width=0)))
    annotations.append(dict(x=px_x(292.5), y=px_y(yc), xref="paper", yref="paper", text=name, showarrow=False,
                            xanchor="left", yanchor="middle", font=dict(family=SERIF, size=13.5, color="black")))

layout["annotations"] = annotations
layout["shapes"] = shapes
fig.update_layout(**layout)
fig.write_html("out.html")
